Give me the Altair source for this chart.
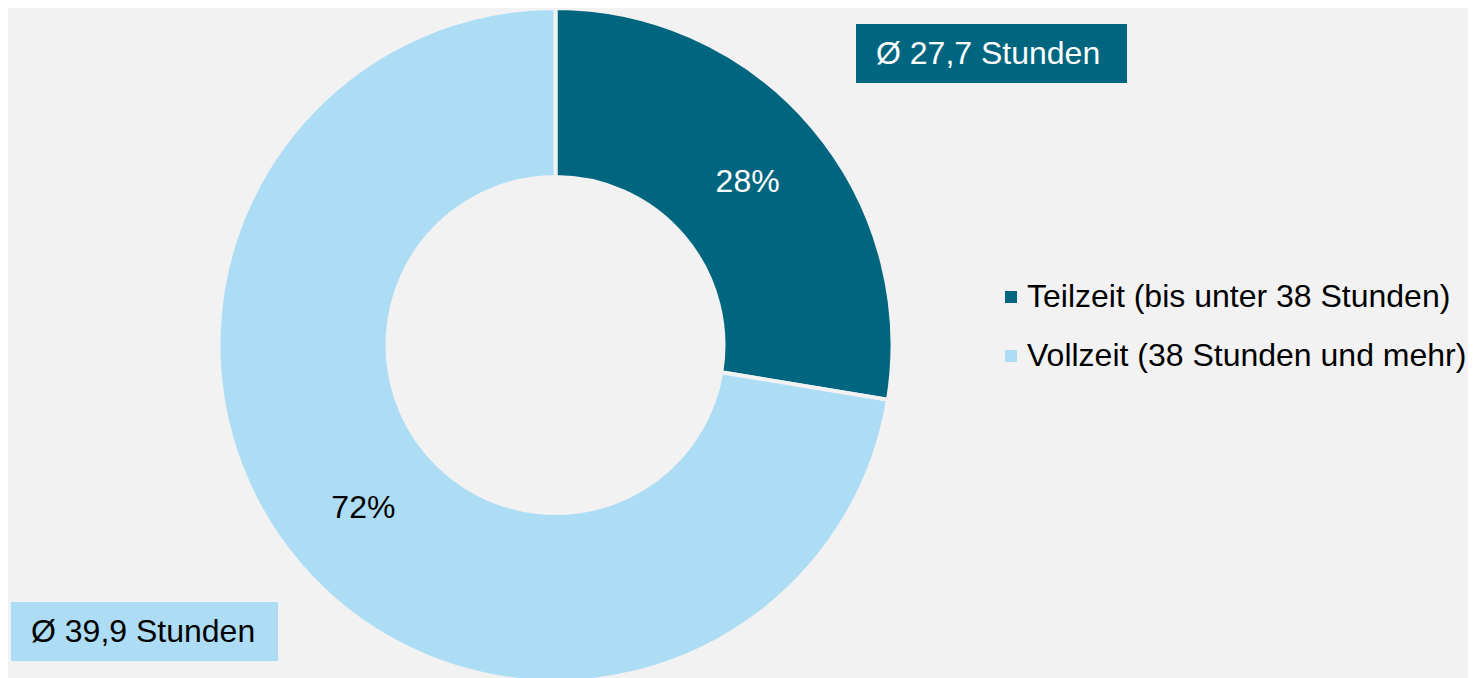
import altair as alt
import pandas as pd

# Data
categories = ["Teilzeit (bis unter 38 Stunden)", "Vollzeit (38 Stunden und mehr)"]
shares = [27.6, 72.4]
share_labels = ["28%", "72%"]
avg_hours = [27.7, 39.9]
slice_colors = ["#006680", "#ADDCF5"]
label_colors = ["#FFFFFF", "#000000"]

FONT = "Liberation Sans"
BG = "#F2F2F2"
FS = 32

df = pd.DataFrame({
    "category": categories,
    "share": shares,
    "label": share_labels,
    "idx": [0, 1],
    "textColor": label_colors,
})

avg_text = ["Ø " + f"{h:.1f}".replace(".", ",") + " Stunden" for h in avg_hours]
ann_df = pd.DataFrame({"text": avg_text, "idx": [0, 1]})

CX, CY = 547.5, 337

base = alt.Chart(df).encode(
    theta=alt.Theta("share:Q", stack=True),
    order=alt.Order("idx:Q"),
)

arcs = base.mark_arc(outerRadius=337, innerRadius=168, stroke=BG, strokeWidth=4).encode(
    x=alt.value(CX),
    y=alt.value(CY),
    color=alt.Color(
        "category:N",
        scale=alt.Scale(domain=categories, range=slice_colors),
        legend=alt.Legend(
            orient="none",
            legendX=987,
            legendY=273,
            title=None,
            labelFont=FONT,
            labelFontSize=FS,
            labelColor="#000000",
            labelLimit=600,
            symbolType="square",
            symbolSize=144,
            symbolStrokeWidth=0,
            rowPadding=27,
            labelOffset=0,
            padding=0,
        ),
    ),
)

pct = base.mark_text(radius=252, font=FONT, fontSize=FS, align="center", baseline="middle").encode(
    x=alt.value(CX),
    y=alt.value(CY),
    text="label:N",
    color=alt.Color("textColor:N", scale=None),
)

box1 = alt.Chart(ann_df).transform_filter("datum.idx == 0").mark_rect(color=slice_colors[0]).encode(
    x=alt.value(848), x2=alt.value(1119), y=alt.value(16), y2=alt.value(75)
)
txt1 = alt.Chart(ann_df).transform_filter("datum.idx == 0").mark_text(
    font=FONT, fontSize=FS, align="left", baseline="middle", color="#FFFFFF"
).encode(x=alt.value(868), y=alt.value(46), text="text:N")

box2 = alt.Chart(ann_df).transform_filter("datum.idx == 1").mark_rect(color=slice_colors[1]).encode(
    x=alt.value(3), x2=alt.value(270), y=alt.value(594), y2=alt.value(653)
)
txt2 = alt.Chart(ann_df).transform_filter("datum.idx == 1").mark_text(
    font=FONT, fontSize=FS, align="left", baseline="middle", color="#000000"
).encode(x=alt.value(23), y=alt.value(624), text="text:N")

chart = alt.layer(arcs, pct, box1, txt1, box2, txt2).properties(
    width=1460,
    height=670,
    autosize=alt.AutoSizeParams(type="none"),
    padding=0,
    background=BG,
).configure_view(stroke=None)

chart.save("out.html", embed_options={"renderer": "svg", "actions": False})
